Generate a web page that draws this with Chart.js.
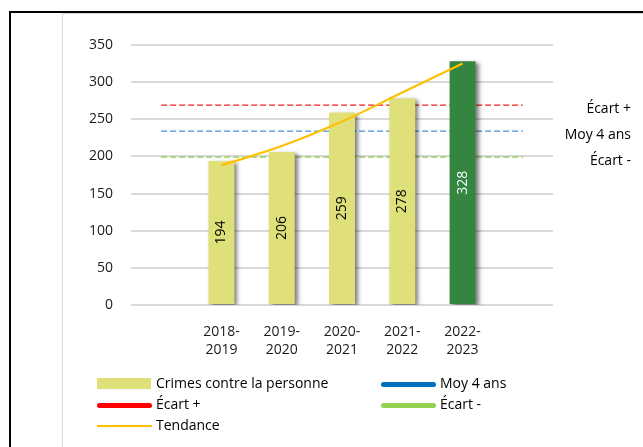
<!DOCTYPE html>
<html lang="fr">
<head>
<meta charset="utf-8">
<script src="https://cdn.jsdelivr.net/npm/chart.js@4"></script>
<style>
  html, body { margin: 0; padding: 0; background: #fff; }
  body { width: 643px; height: 447px; position: relative; overflow: hidden; font-family: "Open Sans", sans-serif; }
  #frame { position: absolute; left: 9px; top: 11px; width: 700px; height: 500px; border-left: 2.5px solid #000; border-top: 2px solid #000; }
  #inner { position: absolute; left: 62px; top: 13px; width: 700px; height: 500px; border-left: 1.5px solid #d9d9d9; border-top: 1px solid #d9d9d9; }
  #wrap { position: absolute; left: 0; top: 0; width: 643px; height: 447px; }
  .leg { position: absolute; font-size: 14px; color: #000; line-height: 16px; white-space: nowrap; }
  .sw { position: absolute; }
</style>
</head>
<body>
<div id="frame"></div>
<div id="inner"></div>
<div id="wrap"><canvas id="chart"></canvas></div>
<div id="legend"></div>
<script>
// ========================
// DONNEES
// ========================
const categories = [[""], ["2018-", "2019"], ["2019-", "2020"], ["2020-", "2021"], ["2021-", "2022"], ["2022-", "2023"], [""]];
const crimes = [null, 194, 206, 259, 278, 328, null];
const moy4ans = [234, 234, 234, 234, 234, 234, 234];
const ecartPlus = [269, 269, 269, 269, 269, 269, 269];
const ecartMoins = [199, 199, 199, 199, 199, 199, 199];
const tendance = [null, 188, 214, 247, 286, 325, null];
const yTicks = [0, 50, 100, 150, 200, 250, 300, 350];

const barColors = ["#dfe07a", "#dfe07a", "#dfe07a", "#dfe07a", "#dfe07a", "#338540", "#dfe07a"];
const labelColors = ["#000", "#000", "#000", "#000", "#000", "#fff", "#000"];

// ========================
// PLUGINS
// ========================
// ombre des barres (style Excel)
const barShadow = {
  id: "barShadow",
  beforeDatasetDraw(chart, args) {
    if (args.meta.type !== "bar") return;
    const ctx = chart.ctx;
    ctx.save();
    ctx.shadowColor = "rgba(0,0,0,0.5)";
    ctx.shadowOffsetX = 3;
    ctx.shadowOffsetY = 2;
    ctx.shadowBlur = 4;
  },
  afterDatasetDraw(chart, args) {
    if (args.meta.type !== "bar") return;
    chart.ctx.restore();
  }
};

// valeurs verticales dans les barres + etiquettes a droite des lignes
const valueLabels = {
  id: "valueLabels",
  afterDatasetsDraw(chart) {
    const ctx = chart.ctx;
    chart.data.datasets.forEach((ds, i) => {
      const meta = chart.getDatasetMeta(i);
      if (meta.type === "bar") {
        meta.data.forEach((bar, j) => {
          const v = ds.data[j];
          if (v == null) return;
          ctx.save();
          ctx.translate(bar.x, (bar.y + bar.base) / 2);
          ctx.rotate(-Math.PI / 2);
          ctx.font = "14px 'Open Sans'";
          ctx.fillStyle = labelColors[j];
          ctx.textAlign = "center";
          ctx.textBaseline = "middle";
          ctx.fillText(String(v), 0, 0);
          ctx.restore();
        });
      }
      if (ds.sideLabel) {
        const last = meta.data[meta.data.length - 1];
        ctx.save();
        ctx.font = "14px 'Open Sans'";
        ctx.fillStyle = "#000";
        ctx.textAlign = "right";
        ctx.textBaseline = "middle";
        ctx.fillText(ds.sideLabel, chart.chartArea.right + 78, last.y + 4);
        ctx.restore();
      }
    });
  }
};

// ========================
// GRAPHIQUE
// ========================
const ctx = document.getElementById("chart").getContext("2d");
new Chart(ctx, {
  data: {
    labels: categories,
    datasets: [
      {
        type: "bar",
        label: "Crimes contre la personne",
        data: crimes,
        backgroundColor: barColors,
        categoryPercentage: 1,
        barPercentage: 0.43,
        order: 1
      },
      {
        type: "line",
        label: "Moy 4 ans",
        data: moy4ans,
        borderColor: "#4a8fd4",
        borderWidth: 1.4,
        borderDash: [6, 3],
        pointRadius: 0,
        sideLabel: "Moy 4 ans",
        order: 2
      },
      {
        type: "line",
        label: "Écart +",
        data: ecartPlus,
        borderColor: "#f02020",
        borderWidth: 1.4,
        borderDash: [6, 3],
        pointRadius: 0,
        sideLabel: "Écart +",
        order: 2
      },
      {
        type: "line",
        label: "Écart -",
        data: ecartMoins,
        borderColor: "#8fcc50",
        borderWidth: 1.4,
        borderDash: [6, 3],
        pointRadius: 0,
        sideLabel: "Écart -",
        order: 2
      },
      {
        type: "line",
        label: "Tendance",
        data: tendance,
        borderColor: "#ffc000",
        borderWidth: 2.2,
        pointRadius: 0,
        cubicInterpolationMode: "monotone",
        order: 0
      }
    ]
  },
  options: {
    responsive: true,
    maintainAspectRatio: false,
    animation: false,
    layout: { padding: { left: 81, right: 90, top: 45, bottom: 82 } },
    plugins: {
      legend: { display: false },
      tooltip: { enabled: false }
    },
    scales: {
      x: {
        grid: { display: false, drawTicks: false },
        border: { display: false },
        ticks: {
          padding: 18,
          maxRotation: 0,
          autoSkip: false,
          color: "#1a1a1a",
          font: { family: "Open Sans", size: 14, lineHeight: 1.3 }
        },
        afterFit(scale) { scale.height = 60; }
      },
      y: {
        min: 0,
        max: 350,
        afterBuildTicks(scale) { scale.ticks = yTicks.map(v => ({ value: v })); },
        grid: { color: "#d9d9d9", lineWidth: 2, drawTicks: false },
        border: { display: false },
        ticks: {
          padding: 18,
          color: "#1a1a1a",
          font: { family: "Open Sans", size: 14 }
        },
        afterFit(scale) { scale.width = 50; }
      }
    }
  },
  plugins: [barShadow, valueLabels]
});

// ========================
// LEGENDE
// ========================
const legendItems = [
  { text: "Crimes contre la personne", kind: "rect", color: "#dfe07a", x: 97, y: 384 },
  { text: "Moy 4 ans", kind: "thick", color: "#0070c0", x: 381, y: 384 },
  { text: "Écart +", kind: "thick", color: "#ff0000", x: 97, y: 405 },
  { text: "Écart -", kind: "thick", color: "#92d050", x: 381, y: 405 },
  { text: "Tendance", kind: "thin", color: "#ffc000", x: 97, y: 426 }
];
const legend = document.getElementById("legend");
legendItems.forEach(it => {
  const sw = document.createElement("div");
  sw.className = "sw";
  if (it.kind === "rect") {
    Object.assign(sw.style, { left: it.x + "px", top: (it.y - 6) + "px", width: "54px", height: "11px", background: it.color });
  } else if (it.kind === "thick") {
    Object.assign(sw.style, { left: it.x + "px", top: (it.y - 2.5) + "px", width: "55px", height: "5px", background: it.color, borderRadius: "3px" });
  } else {
    Object.assign(sw.style, { left: it.x + "px", top: (it.y - 1) + "px", width: "55px", height: "1.5px", background: it.color });
  }
  legend.appendChild(sw);
  const t = document.createElement("div");
  t.className = "leg";
  t.textContent = it.text;
  Object.assign(t.style, { left: (it.x + 59) + "px", top: (it.y - 9) + "px" });
  legend.appendChild(t);
});
</script>
</body>
</html>
